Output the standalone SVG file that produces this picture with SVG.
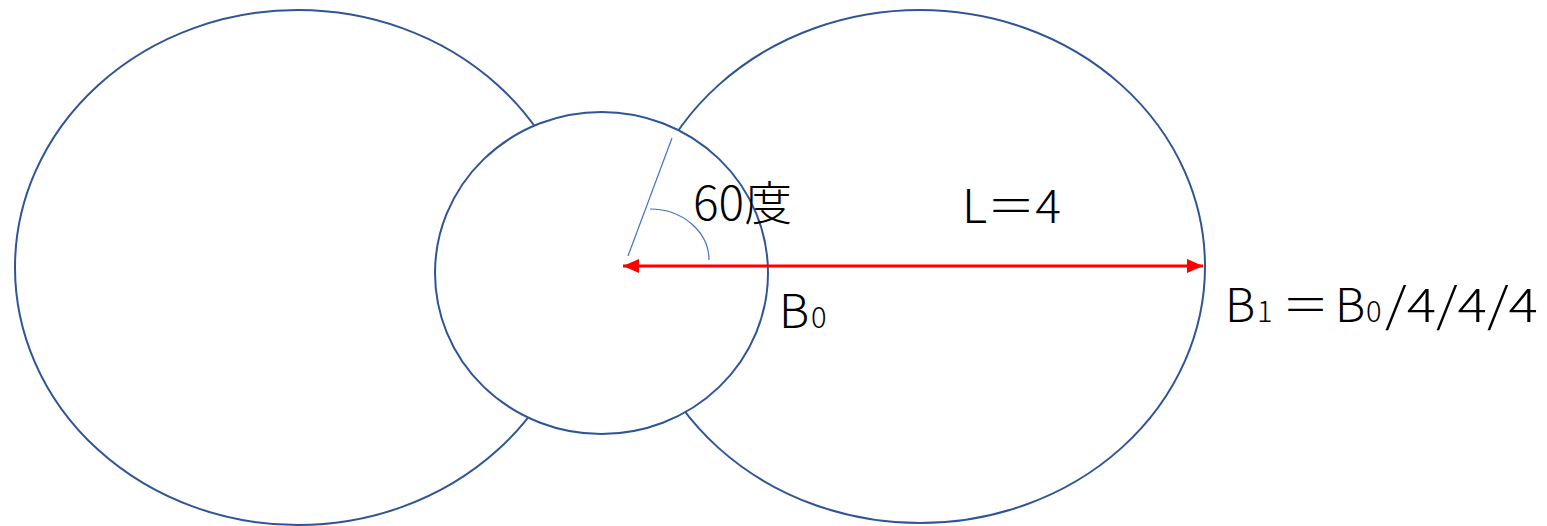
<svg xmlns="http://www.w3.org/2000/svg" width="1547" height="526" viewBox="0 0 1547 526">
<style>
.shape{fill:#FFFFFF;stroke:#2F5597;stroke-width:2}
.thin{fill:none;stroke:#4472C4;stroke-width:1.2}
.red{stroke:#FF0000;stroke-width:3}
.lbl{font-family:"Noto Sans CJK JP","Noto Sans",sans-serif;font-size:47px;fill:#000000;font-weight:300}
.sub{font-size:29px}
</style>
<defs>
<marker id="arr" viewBox="0 0 10 10" refX="10" refY="5" markerWidth="16" markerHeight="16" markerUnits="userSpaceOnUse" orient="auto-start-reverse">
<path d="M0,0.6 L10,5 L0,9.4 Z" fill="#FF0000"/>
</marker>
</defs>
<g id="left-ellipse"><ellipse class="shape" cx="298" cy="267.5" rx="283" ry="257.5"/></g>
<g id="right-ellipse"><ellipse class="shape" cx="920" cy="266.5" rx="285" ry="256.5"/></g>
<g id="small-circle"><ellipse class="shape" cx="601.5" cy="273" rx="166.5" ry="161"/></g>
<g id="connectors">
<line class="thin" x1="672" y1="138" x2="628" y2="256"/>
<path class="thin" d="M650,209 A59,51 0 0 1 709,260"/>
<line class="red" x1="623" y1="266" x2="1203" y2="266" marker-start="url(#arr)" marker-end="url(#arr)"/>
</g>
<g id="labels">
<text class="lbl" x="693" y="220" textLength="99" lengthAdjust="spacingAndGlyphs">60度</text>
<text class="lbl" x="962" y="223" textLength="99" lengthAdjust="spacingAndGlyphs">L＝4</text>
<text class="lbl" x="779" y="328">B<tspan class="sub" x="811">0</tspan></text>
<text class="lbl" y="322"><tspan x="1225">B</tspan><tspan class="sub" x="1257">1</tspan><tspan x="1282">＝</tspan><tspan x="1335">B</tspan><tspan class="sub" x="1366">0</tspan><tspan x="1385" textLength="153" lengthAdjust="spacingAndGlyphs">/4/4/4</tspan></text>
</g>
</svg>
